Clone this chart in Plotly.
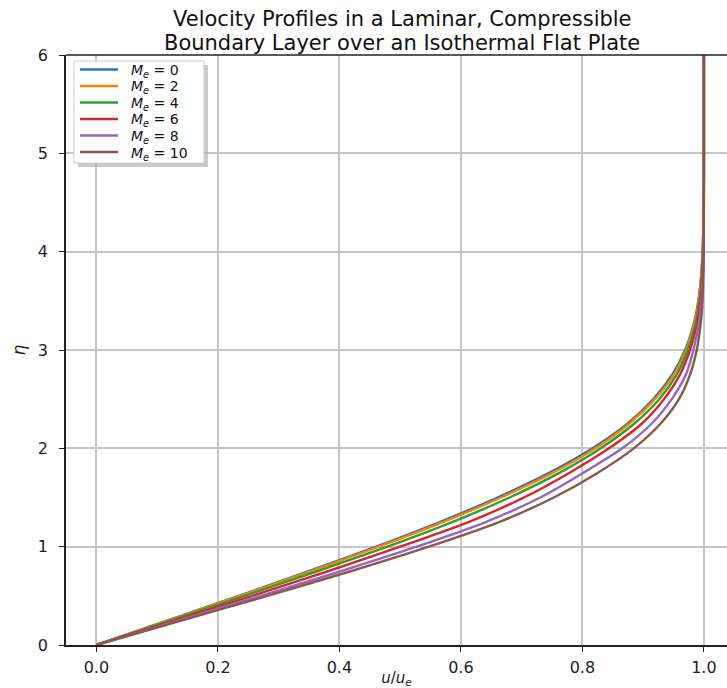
import plotly.graph_objects as go

# eta grid (vertical axis) and u/u_e for each edge Mach number
eta = [0.0, 0.25, 0.5, 0.75, 1.0, 1.25, 1.5, 1.75, 2.0, 2.25, 2.5, 2.75,
       3.0, 3.25, 3.5, 3.75, 4.0, 4.5, 5.0, 6.0]

u_me0 = [0.0, 0.1174, 0.2342, 0.3495, 0.4606, 0.5651, 0.6604, 0.7453, 0.8167, 0.8741,
         0.9168, 0.9478, 0.9691, 0.9826, 0.9907, 0.9954, 0.9978, 0.9996, 1.0, 1.0]
u_me2 = [0.0, 0.1186, 0.2366, 0.3531, 0.4649, 0.5704, 0.6658, 0.7510, 0.8214, 0.8771,
         0.9195, 0.9505, 0.9708, 0.9836, 0.9914, 0.9957, 0.9980, 0.9997, 1.0, 1.0]
u_me4 = [0.0, 0.1221, 0.2439, 0.3634, 0.4789, 0.5856, 0.6801, 0.7621, 0.8302, 0.8850,
         0.9265, 0.9552, 0.9735, 0.9855, 0.9927, 0.9964, 0.9984, 0.9998, 1.0, 1.0]
u_me6 = [0.0, 0.1286, 0.2565, 0.3813, 0.5000, 0.6125, 0.7038, 0.7783, 0.8437, 0.8975,
         0.9342, 0.9606, 0.9771, 0.9881, 0.9939, 0.9971, 0.9987, 0.9998, 1.0, 1.0]
u_me8 = [0.0, 0.1357, 0.2704, 0.4021, 0.5270, 0.6407, 0.7305, 0.8011, 0.8656, 0.9138,
         0.9470, 0.9704, 0.9827, 0.9912, 0.9959, 0.9982, 0.9993, 0.9999, 1.0, 1.0]
u_me10 = [0.0, 0.1413, 0.2815, 0.4185, 0.5473, 0.6627, 0.7530, 0.8249, 0.8845, 0.9285,
          0.9589, 0.9772, 0.9882, 0.9943, 0.9976, 0.9990, 0.9997, 1.0, 1.0, 1.0]

mach_labels = ["0", "2", "4", "6", "8", "10"]
series = [u_me0, u_me2, u_me4, u_me6, u_me8, u_me10]
colors = ["#1f77b4", "#ff7f0e", "#2ca02c", "#d62728", "#9467bd", "#8c564b"]

x_ticks = [0.0, 0.2, 0.4, 0.6, 0.8, 1.0]
x_tick_text = ["0.0", "0.2", "0.4", "0.6", "0.8", "1.0"]
y_ticks = [0, 1, 2, 3, 4, 5, 6]

title_lines = ["Velocity Profiles in a Laminar, Compressible",
               "Boundary Layer over an Isothermal Flat Plate"]

FONT = "DejaVu Sans"

W, H = 727, 688
L, T, B, R = 66, 55, 43, 0
PW, PH = W - L - R, H - T - B


def px(xp):
    return (xp - L) / PW


def py(yp):
    return (H - B - yp) / PH


fig = go.Figure()
for lab, u, c in zip(mach_labels, series, colors):
    fig.add_trace(go.Scatter(
        x=u, y=eta, mode="lines",
        line=dict(color=c, width=2.4, shape="spline", smoothing=0.8),
        name="M_e = " + lab, showlegend=False,
    ))

fig.update_layout(
    width=W, height=H,
    margin=dict(l=L, r=R, t=T, b=B),
    paper_bgcolor="white", plot_bgcolor="white",
    font=dict(family=FONT, color="#222222", size=16),
    showlegend=False,
    xaxis=dict(
        range=[-0.05, 1.038], tickvals=x_ticks, ticktext=x_tick_text,
        showgrid=True, gridcolor="#c6c6c6", gridwidth=1.6,
        showline=True, linecolor="#222222", linewidth=1.5, mirror=False,
        ticks="outside", ticklen=5, tickwidth=1.3, tickcolor="#222222",
        zeroline=False, ticklabelstandoff=2,
        title=dict(text="<i>u</i>/<i>u</i><sub><i>e</i></sub>", font=dict(family=FONT, size=15), standoff=2),
        tickfont=dict(family=FONT, size=16),
    ),
    yaxis=dict(
        range=[0, 6], tickvals=y_ticks,
        showgrid=True, gridcolor="#c6c6c6", gridwidth=1.6,
        showline=True, linecolor="#222222", linewidth=1.5, mirror=False,
        ticks="outside", ticklen=5, tickwidth=1.3, tickcolor="#222222",
        zeroline=False, ticklabelstandoff=8,
        title=dict(text="<i>η</i>", font=dict(family=FONT, size=17), standoff=8),
        tickfont=dict(family=FONT, size=16),
    ),
)

# two-line title
for txt, yc in zip(title_lines, [19.5, 43]):
    fig.add_annotation(text=txt, xref="paper", yref="paper",
                       x=px(402), y=py(yc),
                       xanchor="center", yanchor="middle", showarrow=False,
                       font=dict(family=FONT, size=21, color="#111111"))

# top spine of the axes box
fig.add_shape(type="line", xref="paper", yref="paper", x0=0, x1=1, y0=1, y1=1,
              line=dict(color="#222222", width=1.5))

# legend: shadow, frame, samples and labels
lx0, lx1, ly0, ly1 = 74, 204, 61, 163
fig.add_shape(type="rect", xref="paper", yref="paper",
              x0=px(lx0 + 4), x1=px(lx1 + 4), y0=py(ly1 + 4), y1=py(ly0 + 4),
              line=dict(width=0), fillcolor="rgba(150,150,150,0.5)", layer="above")
fig.add_shape(type="rect", xref="paper", yref="paper",
              x0=px(lx0), x1=px(lx1), y0=py(ly1), y1=py(ly0),
              line=dict(width=1, color="#cccccc"), fillcolor="white", layer="above")
entry_y = [69.5, 86, 102.5, 119, 135.5, 152]
for lab, c, ey in zip(mach_labels, colors, entry_y):
    fig.add_shape(type="line", xref="paper", yref="paper",
                  x0=px(80), x1=px(118), y0=py(ey), y1=py(ey),
                  line=dict(color=c, width=2.4), layer="above")
    fig.add_annotation(text="<i>M</i><sub><i>e</i></sub> = " + lab,
                       xref="paper", yref="paper", x=px(129), y=py(ey + 1.5),
                       xanchor="left", yanchor="middle", showarrow=False,
                       font=dict(family=FONT, size=14, color="#111111"))

fig.write_html("out.html")
